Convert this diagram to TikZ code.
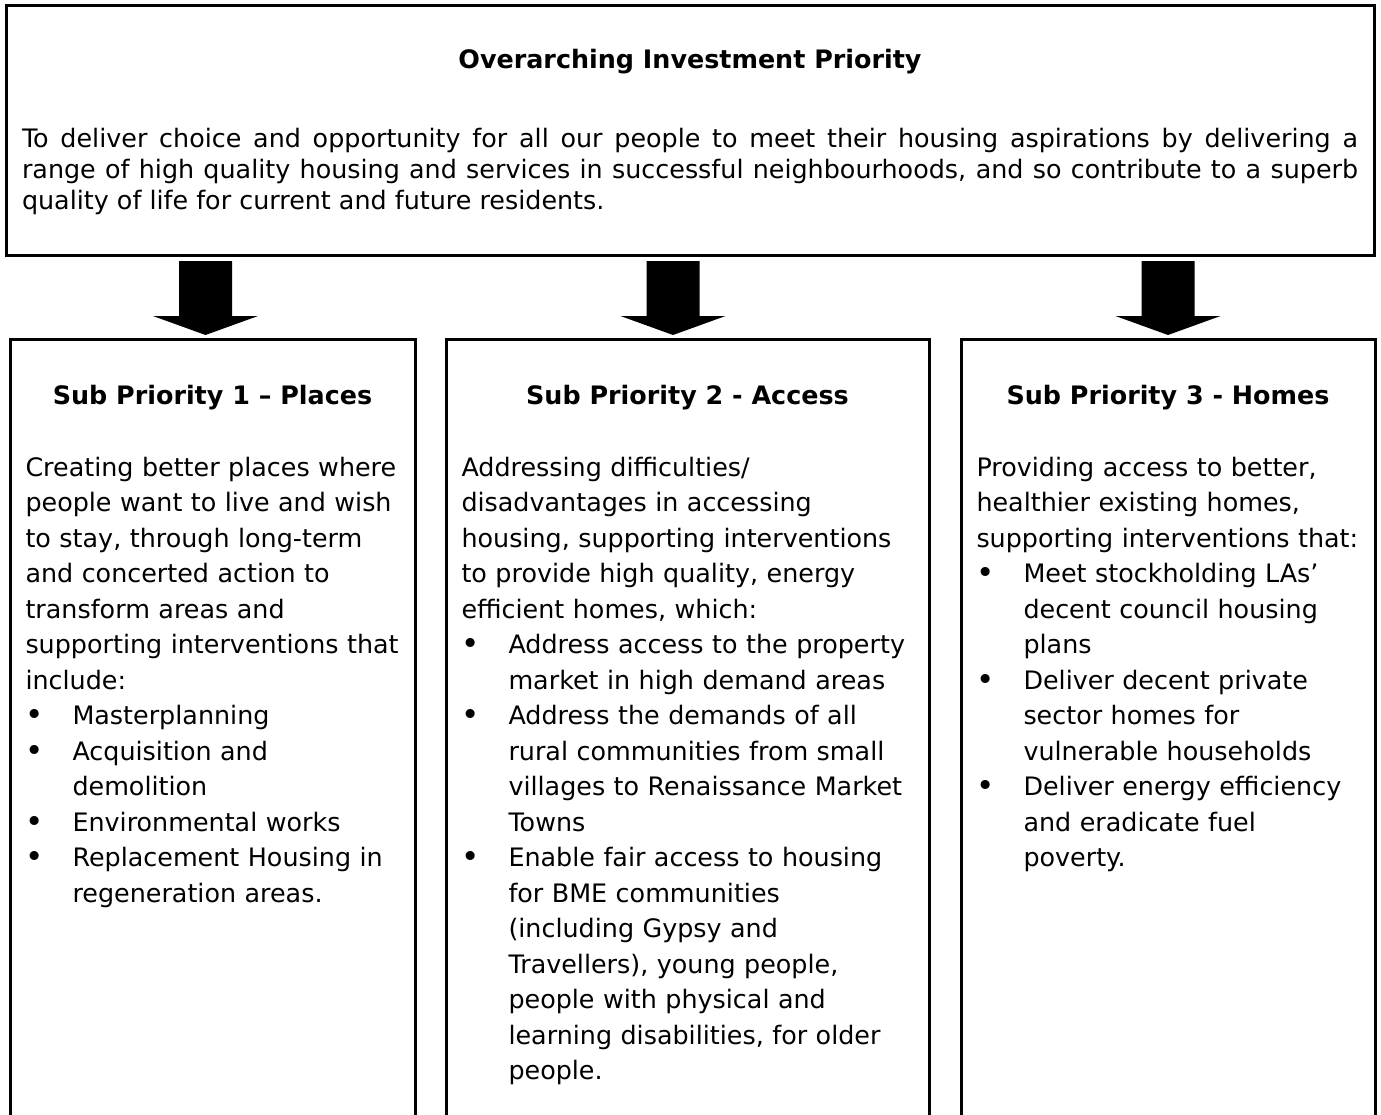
\documentclass[tikz,border=0pt]{standalone}
\usepackage{fontspec}
\setmainfont{DejaVu Sans}
\usetikzlibrary{positioning, calc}
\newcommand{\bulitem}{\makebox[23.5pt][l]{\raisebox{-0.7pt}{\fontsize{15.5}{15.5}\selectfont\textbullet}}}
\newcommand{\bulcont}{\hspace*{23.5pt}}

\begin{document}
\begin{tikzpicture}[
    x=0.5pt, y=-0.5pt,
    every node/.style={inner sep=0pt, outer sep=0pt, font=\fontsize{12.7}{17.75}\selectfont},
    boxframe/.style={draw, line width=1.5pt, anchor=north west},
    subbox/.style={boxframe, minimum height=400pt},
    headtext/.style={anchor=base, font=\fontsize{12.7}{17.75}\selectfont\bfseries},
    bodytext/.style={anchor=base west, text width=240pt, align=left}
]
\useasboundingbox (0,0) rectangle (1381,1114);
\clip (0,0) rectangle (1381,1114);

\node[boxframe, minimum width=684pt, minimum height=125pt] (overarch) at (6,5) {};
\node[headtext] (title) at ($(overarch.north)+(0,63)$) {Overarching Investment Priority};
\node[anchor=base west, text width=668pt, align=justify,
      font=\fontsize{12.7}{15.5}\selectfont] (intro) at ($(overarch.north west)+(16,142)$)
    {To deliver choice and opportunity for all our people to meet their housing aspirations by delivering a\linebreak
     range of high quality housing and services in successful neighbourhoods, and so contribute to a superb\linebreak
     quality of life for current and future residents.};

\node[subbox, minimum width=202.5pt] (sub1) at (10,339) {};
\node[subbox, minimum width=241.5pt] (sub2) at (446,339) {};
\node[subbox, minimum width=207pt] (sub3) at (961,339) {};

\foreach \ax/\nm in {205.5/sub1, 673/sub2, 1168/sub3} {
    \path (\ax,0 |- \nm.north) ++(0,-4) coordinate (tip);
    \fill[black] (tip) ++(-26.5,-74) -- ++(53,0) -- ++(0,55) -- ++(26,0) -- (tip)
        -- ++(-52.5,-19) -- ++(26,0) -- cycle;
}

\node[headtext] (head1) at ($(sub1.north)+(0,65)$) {Sub Priority 1 – Places};
\node[headtext] (head2) at ($(sub2.north)+(0,65)$) {Sub Priority 2 - Access};
\node[headtext] (head3) at ($(sub3.north)+(0,65)$) {Sub Priority 3 - Homes};

\node[bodytext] (body1) at ($(sub1.north west)+(15.5,137)$) {%
Creating better places where\\
people want to live and wish\\
to stay, through long-term\\
and concerted action to\\
transform areas and\\
supporting interventions that\\
include:\\
\bulitem Masterplanning\\
\bulitem Acquisition and\\
\bulcont demolition\\
\bulitem Environmental works\\
\bulitem Replacement Housing in\\
\bulcont regeneration areas.};

\node[bodytext] (body2) at ($(sub2.north west)+(15.5,137)$) {%
Addressing difficulties/\\
disadvantages in accessing\\
housing, supporting interventions\\
to provide high quality, energy\\
efficient homes, which:\\
\bulitem Address access to the property\\
\bulcont market in high demand areas\\
\bulitem Address the demands of all\\
\bulcont rural communities from small\\
\bulcont villages to Renaissance Market\\
\bulcont Towns\\
\bulitem Enable fair access to housing\\
\bulcont for BME communities\\
\bulcont (including Gypsy and\\
\bulcont Travellers), young people,\\
\bulcont people with physical and\\
\bulcont learning disabilities, for older\\
\bulcont people.};

\node[bodytext] (body3) at ($(sub3.north west)+(15.5,137)$) {%
Providing access to better,\\
healthier existing homes,\\
supporting interventions that:\\
\bulitem Meet stockholding LAs’\\
\bulcont decent council housing\\
\bulcont plans\\
\bulitem Deliver decent private\\
\bulcont sector homes for\\
\bulcont vulnerable households\\
\bulitem Deliver energy efficiency\\
\bulcont and eradicate fuel\\
\bulcont poverty.};

\end{tikzpicture}
\end{document}
